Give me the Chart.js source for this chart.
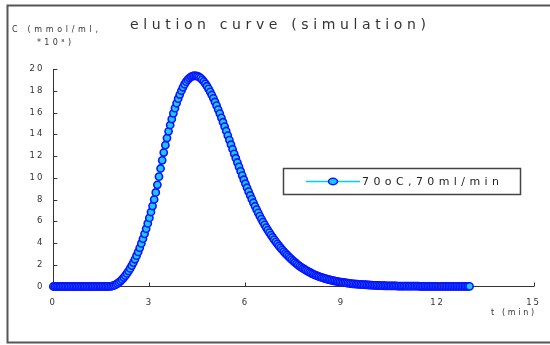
<!DOCTYPE html>
<html>
<head>
<meta charset="utf-8">
<script src="https://cdn.jsdelivr.net/npm/chart.js@4.4.1/dist/chart.umd.min.js"></script>
<style>
  body { margin: 0; background: #fff; }
  #wrap { width: 550px; height: 345px; position: relative; }
</style>
</head>
<body>
<div id="wrap"><canvas id="elution"></canvas></div>
<script>
// elution curve (simulation), step 0.05 min
var times = [
  0.00,0.05,0.10,0.15,0.20,0.25,0.30,0.35,0.40,0.45,0.50,0.55,0.60,0.65,0.70,0.75,0.80,0.85,0.90,0.95,
  1.00,1.05,1.10,1.15,1.20,1.25,1.30,1.35,1.40,1.45,1.50,1.55,1.60,1.65,1.70,1.75,1.80,1.85,1.90,1.95,
  2.00,2.05,2.10,2.15,2.20,2.25,2.30,2.35,2.40,2.45,2.50,2.55,2.60,2.65,2.70,2.75,2.80,2.85,2.90,2.95,
  3.00,3.05,3.10,3.15,3.20,3.25,3.30,3.35,3.40,3.45,3.50,3.55,3.60,3.65,3.70,3.75,3.80,3.85,3.90,3.95,
  4.00,4.05,4.10,4.15,4.20,4.25,4.30,4.35,4.40,4.45,4.50,4.55,4.60,4.65,4.70,4.75,4.80,4.85,4.90,4.95,
  5.00,5.05,5.10,5.15,5.20,5.25,5.30,5.35,5.40,5.45,5.50,5.55,5.60,5.65,5.70,5.75,5.80,5.85,5.90,5.95,
  6.00,6.05,6.10,6.15,6.20,6.25,6.30,6.35,6.40,6.45,6.50,6.55,6.60,6.65,6.70,6.75,6.80,6.85,6.90,6.95,
  7.00,7.05,7.10,7.15,7.20,7.25,7.30,7.35,7.40,7.45,7.50,7.55,7.60,7.65,7.70,7.75,7.80,7.85,7.90,7.95,
  8.00,8.05,8.10,8.15,8.20,8.25,8.30,8.35,8.40,8.45,8.50,8.55,8.60,8.65,8.70,8.75,8.80,8.85,8.90,8.95,
  9.00,9.05,9.10,9.15,9.20,9.25,9.30,9.35,9.40,9.45,9.50,9.55,9.60,9.65,9.70,9.75,9.80,9.85,9.90,9.95,
  10.00,10.05,10.10,10.15,10.20,10.25,10.30,10.35,10.40,10.45,10.50,10.55,10.60,10.65,10.70,10.75,10.80,10.85,10.90,10.95,
  11.00,11.05,11.10,11.15,11.20,11.25,11.30,11.35,11.40,11.45,11.50,11.55,11.60,11.65,11.70,11.75,11.80,11.85,11.90,11.95,
  12.00,12.05,12.10,12.15,12.20,12.25,12.30,12.35,12.40,12.45,12.50,12.55,12.60,12.65,12.70,12.75,12.80,12.85,12.90,12.95,
  13.00
];
var conc = [
  0,0,0,0,0,0,0,0,0,0,0,0,0,0,0,0,0,0,0,0,
  0,0,0,0,0,0,0,0,0,0,0,0,0,0,0,0.01,0.02,0.05,0.10,0.17,
  0.26,0.37,0.50,0.65,0.82,1.00,1.20,1.42,1.66,1.92,2.20,2.50,2.83,3.18,3.56,3.96,4.39,4.84,5.31,5.80,
  6.31,6.85,7.40,8.00,8.65,9.35,10.10,10.85,11.60,12.32,13.00,13.65,14.27,14.85,15.40,15.92,16.40,16.85,17.27,17.65,
  18.00,18.32,18.60,18.83,19.02,19.17,19.28,19.35,19.38,19.37,19.34,19.27,19.16,19.02,18.85,18.65,18.42,18.17,17.90,17.61,
  17.30,16.97,16.63,16.27,15.90,15.51,15.11,14.71,14.30,13.88,13.46,13.04,12.62,12.20,11.80,11.40,11.00,10.60,10.20,9.82,
  9.45,9.08,8.72,8.37,8.03,7.70,7.38,7.07,6.77,6.48,6.20,5.93,5.67,5.42,5.18,4.95,4.73,4.52,4.31,4.11,
  3.92,3.73,3.55,3.38,3.21,3.05,2.90,2.75,2.61,2.47,2.34,2.21,2.09,1.97,1.86,1.76,1.66,1.57,1.48,1.39,
  1.31,1.24,1.17,1.10,1.03,0.97,0.91,0.86,0.81,0.76,0.72,0.68,0.64,0.60,0.56,0.53,0.50,0.47,0.44,0.41,
  0.39,0.37,0.35,0.33,0.31,0.29,0.27,0.25,0.24,0.22,0.21,0.20,0.19,0.18,0.17,0.16,0.15,0.14,0.13,0.12,
  0.11,0.10,0.10,0.09,0.08,0.08,0.07,0.07,0.06,0.06,0.05,0.05,0.05,0.05,0.05,0.04,0.04,0.04,0.04,0.04,
  0.04,0.03,0.03,0.03,0.03,0.03,0.03,0.03,0.03,0.02,0.02,0.02,0.02,0.02,0.02,0.02,0.02,0.02,0.02,0.02,
  0.02,0.01,0.01,0.01,0.01,0.01,0.01,0.01,0.01,0.01,0.01,0.01,0.01,0.01,0.01,0.01,0.01,0.01,0.01,0.01,
  0.01
];
var xTicks = [0, 3, 6, 9, 12, 15];
var yTicks = [0, 2, 4, 6, 8, 10, 12, 14, 16, 18, 20];
var seriesName = "70oC,70ml/min";
var chartTitle = "elution curve (simulation)";

var txtColor = "#333";
var tickFont = { family: "DejaVu Sans", size: 8.5 };

// draws text char by char so it fills a given width (wide spaced look)
function spacedText(ctx, text, x, y, w) {
  var natural = 0, i;
  for (i = 0; i < text.length; i++) natural += ctx.measureText(text[i]).width;
  var gap = text.length > 1 ? (w - natural) / (text.length - 1) : 0;
  for (i = 0; i < text.length; i++) {
    ctx.fillText(text[i], x, y);
    x += ctx.measureText(text[i]).width + gap;
  }
}

var decor = {
  id: "decor",
  beforeDraw: function(chart) {
    var ctx = chart.ctx;
    ctx.save();
    ctx.fillStyle = "#fff";
    ctx.fillRect(0, 0, chart.width, chart.height);
    ctx.strokeStyle = "#555";
    ctx.lineWidth = 2;
    ctx.strokeRect(7.5, 5.5, 550, 337);
    ctx.restore();
    ctx.letterSpacing = "2px"; // wide tick labels
  },
  afterDraw: function(chart) {
    var ctx = chart.ctx;
    var xs = chart.scales.x, ys = chart.scales.y;
    var a = chart.chartArea;
    ctx.save();
    ctx.letterSpacing = "0px";
    // inward tick marks
    ctx.strokeStyle = "#333";
    ctx.lineWidth = 1;
    ctx.beginPath();
    yTicks.forEach(function(v) {
      if (v === 0) return;
      var py = Math.round(ys.getPixelForValue(v)) + 0.5;
      ctx.moveTo(a.left, py); ctx.lineTo(a.left + 4, py);
    });
    xTicks.forEach(function(v) {
      if (v === 0) return;
      var px = Math.round(xs.getPixelForValue(v)) + 0.5;
      ctx.moveTo(px, a.bottom); ctx.lineTo(px, a.bottom - 4);
    });
    ctx.stroke();

    ctx.fillStyle = txtColor;
    ctx.textBaseline = "middle";
    ctx.textAlign = "left";
    ctx.font = "14px 'DejaVu Sans'";
    spacedText(ctx, chartTitle, 130, 25, 296);

    ctx.font = "8px 'DejaVu Sans'";
    spacedText(ctx, "C (mmol/ml,", 12, 30, 86);
    spacedText(ctx, "*10\u2078)", 37, 43, 34);
    spacedText(ctx, "t (min)", 491, 313, 43);

    // legend box
    var bx = 283.5, by = 168.5, bw = 237, bh = 26;
    ctx.fillStyle = "#fff";
    ctx.fillRect(bx, by, bw, bh);
    ctx.strokeStyle = "#444";
    ctx.lineWidth = 1.5;
    ctx.strokeRect(bx, by, bw, bh);
    var ds = chart.data.datasets[0];
    var ly = by + bh / 2;
    ctx.strokeStyle = ds.borderColor;
    ctx.lineWidth = 1.5;
    ctx.beginPath();
    ctx.moveTo(306, ly); ctx.lineTo(360, ly);
    ctx.stroke();
    ctx.beginPath();
    ctx.ellipse(333, ly, 4.5, 3.2, 0, 0, Math.PI * 2);
    ctx.fillStyle = ds.pointBackgroundColor;
    ctx.fill();
    ctx.strokeStyle = ds.pointBorderColor;
    ctx.lineWidth = 1.5;
    ctx.stroke();
    ctx.fillStyle = "#222";
    ctx.font = "11px 'DejaVu Sans'";
    spacedText(ctx, seriesName, 362, ly + 0.5, 137);
    ctx.restore();
  }
};

var points = times.map(function(t, i) { return { x: t, y: conc[i] }; });

new Chart(document.getElementById("elution"), {
  type: "line",
  data: {
    datasets: [{
      label: seriesName,
      data: points,
      borderColor: "#00ccff",
      borderWidth: 1,
      pointRadius: 3.6,
      pointBorderWidth: 1.6,
      pointBorderColor: "#0a14ff",
      pointBackgroundColor: "#1ec6f6",
      clip: false,
      tension: 0
    }]
  },
  options: {
    responsive: true,
    maintainAspectRatio: false,
    animation: false,
    events: [],
    layout: { autoPadding: false, padding: { top: 69, right: 16, left: 0, bottom: 0 } },
    plugins: { legend: { display: false }, tooltip: { enabled: false } },
    scales: {
      x: {
        type: "linear", min: 0, max: 15,
        afterBuildTicks: function(s) { s.ticks = xTicks.map(function(v) { return { value: v }; }); },
        afterFit: function(s) { s.height = 58.5; },
        grid: { display: false, drawTicks: false },
        border: { display: true, color: "#333", width: 1 },
        ticks: { color: txtColor, font: tickFont, padding: 11, maxRotation: 0 }
      },
      y: {
        min: 0, max: 20,
        afterBuildTicks: function(s) { s.ticks = yTicks.map(function(v) { return { value: v }; }); },
        afterFit: function(s) { s.width = 53.3; },
        grid: { display: false, drawTicks: false },
        border: { display: true, color: "#333", width: 1 },
        ticks: { color: txtColor, font: tickFont, padding: 9 }
      }
    }
  },
  plugins: [decor]
});
</script>
</body>
</html>
